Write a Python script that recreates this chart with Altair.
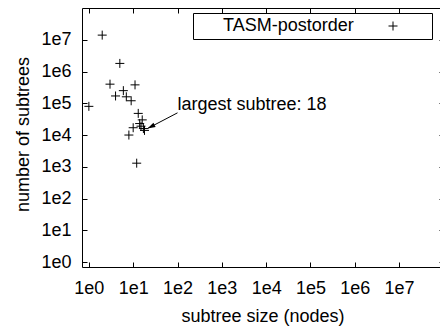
import altair as alt
import pandas as pd

# ---- data ----
sizes = [1, 2, 3, 4, 5, 6, 7, 8, 9, 10, 11, 12, 13, 14, 15, 16, 17, 18]
counts = [8.0e4, 1.4e7, 4.0e5, 1.7e5, 1.8e6, 2.5e5, 1.6e5, 1.0e4, 1.2e5,
          1.7e4, 3.8e5, 1.3e3, 4.8e4, 2.3e4, 1.9e4, 3.0e4, 1.6e4, 1.4e4]
series_name = "TASM-postorder"
x_ticks = [1, 10, 100, 1e3, 1e4, 1e5, 1e6, 1e7]
y_ticks = [1, 10, 100, 1e3, 1e4, 1e5, 1e6, 1e7]
x_title = "subtree size (nodes)"
y_title = "number of subtrees"
note_text = ["largest subtree: 18"]
note_at_x = [100]
note_at_y = [1e5]
arrow_from_x = [100]
arrow_from_y = [5.0e4]
arrow_to_x = [21]
arrow_to_y = [1.6e4]

# ---- layout / style ----
W, H = 358, 259
FONT = "Liberation Sans"
FS = 18
PLUS = "M-1,0H1M0,-1V1"
HEAD = "M0,0L-0.6,2L0.6,2Z"
BLANK = "\u2800"

pts = pd.DataFrame({"size": sizes, "count": counts,
                    "series": [series_name] * len(sizes)})
arrow = pd.DataFrame({"x0": arrow_from_x, "y0": arrow_from_y,
                      "x1": arrow_to_x, "y1": arrow_to_y})
note = pd.DataFrame({"tx": note_at_x, "ty": note_at_y, "label": note_text})

xs = alt.Scale(type="log", domain=[0.7, 8.37e7], nice=False)
ys = alt.Scale(type="log", domain=[0.7, 1e8], nice=False)
label_expr = "'1e' + round(log(datum.value) / LN10)"

main = alt.Chart(pts).mark_point(
    filled=False, size=81, strokeWidth=1, color="black", opacity=1
).encode(
    x=alt.X("size:Q", scale=xs, axis=alt.Axis(
        orient="bottom", values=x_ticks, labelExpr=label_expr,
        ticks=False, tickSize=0, domain=True, domainColor="black", domainWidth=1,
        labelFont=FONT, labelFontSize=FS, labelColor="black", labelPadding=12,
        title=x_title, titleFont=FONT, titleFontSize=FS, titleFontWeight="normal",
        titleColor="black", titleX=180.5, titleY=54, titleBaseline="alphabetic")),
    y=alt.Y("count:Q", scale=ys, axis=alt.Axis(
        orient="left", values=y_ticks, labelExpr=label_expr,
        ticks=False, tickSize=0, domain=True, domainColor="black", domainWidth=1,
        labelFont=FONT, labelFontSize=FS, labelColor="black", labelPadding=11,
        title=y_title, titleFont=FONT, titleFontSize=FS, titleFontWeight="normal",
        titleColor="black", titleX=-54, titleY=126, titleBaseline="alphabetic")),
    shape=alt.Shape("series:N", scale=alt.Scale(range=[PLUS]), legend=alt.Legend(
        orient="none", legendX=111, legendY=5,
        title=BLANK * 2 + series_name, titleOrient="left", titleFont=FONT,
        titleFontSize=FS, titleFontWeight="normal", titleColor="black",
        titlePadding=30, titleAnchor="middle", titleBaseline="middle",
        labelExpr="'" + BLANK + "'", labelFont=FONT, labelFontSize=FS,
        labelOffset=13,
        symbolSize=81, symbolStrokeWidth=1, symbolStrokeColor="black",
        symbolFillColor="transparent",
        padding=4, strokeColor="black", fillColor="white")),
)

# arrow line; its axes give the inward ticks on the bottom and left borders
arrow_line = alt.Chart(arrow).mark_rule(color="black", strokeWidth=1).encode(
    x=alt.X("x0:Q", scale=xs, axis=alt.Axis(
        orient="top", offset=-H, values=x_ticks, labels=False, domain=False,
        ticks=True, tickSize=5, tickColor="black", title="")),
    y=alt.Y("y0:Q", scale=ys, axis=alt.Axis(
        orient="right", offset=-W, values=y_ticks, labels=False, domain=False,
        ticks=True, tickSize=5, tickColor="black", title="")),
    x2="x1:Q", y2="y1:Q",
)

arrow_head = alt.Chart(arrow).mark_point(
    shape=HEAD, filled=True, size=64, color="black", opacity=1, angle=242
).encode(
    x=alt.X("x1:Q", scale=xs, axis=None),
    y=alt.Y("y1:Q", scale=ys, axis=None),
)

# annotation text; its axes give the top border and inward ticks on top/right
note_text_layer = alt.Chart(note).mark_text(
    align="left", baseline="middle", font=FONT, fontSize=FS, color="black", dy=2
).encode(
    x=alt.X("tx:Q", scale=xs, axis=alt.Axis(
        orient="bottom", offset=-H, values=x_ticks, labels=False, domain=True,
        domainColor="black", domainWidth=1,
        ticks=True, tickSize=5, tickColor="black", title="")),
    y=alt.Y("ty:Q", scale=ys, axis=alt.Axis(
        orient="left", offset=-W, values=y_ticks, labels=False, domain=False,
        ticks=True, tickSize=1, tickColor="black", title="")),
    text="label:N",
)

chart = alt.layer(main, arrow_line, note_text_layer, arrow_head).resolve_axis(
    x="independent", y="independent"
).properties(
    width=W, height=H,
    padding={"left": 82, "top": 8, "right": 0, "bottom": 60},
    autosize=alt.AutoSizeParams(type="none"),
).configure_view(stroke="transparent").configure_axis(grid=False)

chart.save("out.html", embed_options={"renderer": "svg", "actions": False})
